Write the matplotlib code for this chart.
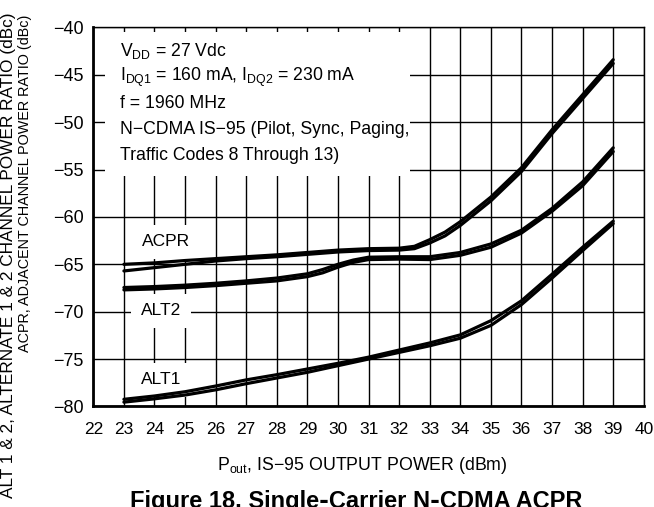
import matplotlib
matplotlib.use("Agg")
import matplotlib.pyplot as plt
from matplotlib.patches import Rectangle

FONTS = ['Liberation Sans', 'DejaVu Sans']
plt.rcParams['font.family'] = FONTS
plt.rcParams['mathtext.fontset'] = 'custom'
plt.rcParams['mathtext.rm'] = 'Liberation Sans'
plt.rcParams['mathtext.default'] = 'regular'

# ---- data ----
x_acpr = [23, 24, 25, 26, 27, 28, 29, 30, 31, 32, 32.5, 33, 33.5, 34, 35, 36, 37, 38, 39]
acpr_upper = [-65.0, -64.85, -64.6, -64.4, -64.2, -64.0, -63.75, -63.5, -63.35, -63.3, -63.1,
              -62.4, -61.6, -60.5, -57.9, -54.8, -50.8, -47.1, -43.4]
acpr_lower = [-65.7, -65.35, -65.0, -64.65, -64.4, -64.2, -63.95, -63.7, -63.55, -63.5, -63.35,
              -62.75, -62.0, -60.9, -58.3, -55.2, -51.2, -47.5, -43.8]

x_alt2 = [23, 24, 25, 26, 27, 28, 29, 29.5, 30, 30.5, 31, 32, 33, 34, 35, 36, 37, 38, 39]
alt2_a = [-67.7, -67.6, -67.45, -67.25, -67.0, -66.75, -66.3, -65.9, -65.3, -64.8, -64.5,
          -64.45, -64.5, -64.05, -63.2, -61.7, -59.4, -56.7, -53.1]
alt2_b = [-67.45, -67.35, -67.2, -67.0, -66.75, -66.45, -66.0, -65.55, -65.0, -64.55, -64.25,
          -64.2, -64.2, -63.75, -62.85, -61.4, -59.1, -56.3, -52.7]

x_alt1 = [23, 24, 25, 26, 27, 28, 29, 30, 31, 32, 33, 34, 35, 36, 37, 38, 39]
alt1_a = [-79.55, -79.2, -78.8, -78.25, -77.6, -77.0, -76.4, -75.7, -75.0, -74.3, -73.6,
          -72.8, -71.45, -69.25, -66.45, -63.55, -60.7]
alt1_b = [-79.25, -78.9, -78.45, -77.85, -77.2, -76.65, -76.05, -75.45, -74.8, -74.05, -73.3,
          -72.45, -70.95, -68.85, -66.05, -63.2, -60.45]

x_ticks = list(range(22, 41))
y_ticks = [-80, -75, -70, -65, -60, -55, -50, -45, -40]

fig = plt.figure(figsize=(6.54, 5.07), dpi=100)
ax = fig.add_axes([0.1427, 0.1984, 0.8417, 0.7474])
ax.set_xlim(22, 40)
ax.set_ylim(-80, -40)
ax.set_xticks(x_ticks)
ax.set_yticks(y_ticks)
ax.set_xticklabels([str(v) for v in x_ticks])
ax.set_yticklabels([('\u2212%d' % -v) for v in y_ticks])
ax.grid(True, color='black', lw=1.0)
ax.set_axisbelow(True)
ax.tick_params(length=0, labelsize=12.5, pad=11)
ax.tick_params(axis='y', labelsize=13, pad=7)
for s in ['left', 'bottom']:
    ax.spines[s].set_linewidth(2.0)
for s in ['top', 'right']:
    ax.spines[s].set_linewidth(1.0)

for xs, ys in [(x_acpr, acpr_upper), (x_acpr, acpr_lower), (x_alt2, alt2_a), (x_alt2, alt2_b),
               (x_alt1, alt1_a), (x_alt1, alt1_b)]:
    ax.plot(xs, ys, color='black', lw=2.3, solid_capstyle='round', solid_joinstyle='round', zorder=3)

# white box with conditions
ax.add_patch(Rectangle((0.0213, 0.608), 0.554, 0.381, transform=ax.transAxes,
                       facecolor='white', edgecolor='none', zorder=2))
lines = ['V$_{DD}$ = 27 Vdc',
         'I$_{DQ1}$ = 160 mA, I$_{DQ2}$ = 230 mA',
         'f = 1960 MHz',
         'N\u2212CDMA IS\u221295 (Pilot, Sync, Paging,',
         'Traffic Codes 8 Through 13)']
for i, t in enumerate(lines):
    fig.text(120 / 654, 1 - (51 + 26 * i) / 507, t, fontsize=12.7, ha='left', va='center', zorder=4)

box = dict(boxstyle='square,pad=0.55', facecolor='white', edgecolor='none')
ax.text(23.6, -62.6, 'ACPR', fontsize=12.5, ha='left', va='center', bbox=box, zorder=2.5)
ax.text(23.55, -69.9, 'ALT2', fontsize=12.5, ha='left', va='center', bbox=box, zorder=2.5)
ax.text(23.55, -77.2, 'ALT1', fontsize=12.5, ha='left', va='center', bbox=box, zorder=2.5)

fig.text(25 / 654, 1 - 15 / 507, 'ACPR, ADJACENT CHANNEL POWER RATIO (dBc)',
         rotation=90, ha='center', va='top', fontsize=10.4)
fig.text(9 / 654, 1 - 13 / 507, 'ALT 1 & 2, ALTERNATE 1 & 2 CHANNEL POWER RATIO (dBc)',
         rotation=90, ha='center', va='top', fontsize=12.4)

fig.text(362 / 654, 1 - 466 / 507, 'P$_{out}$, IS\u221295 OUTPUT POWER (dBm)',
         ha='center', va='center', fontsize=12.8)
fig.text(356 / 654, 1 - 490 / 507, 'Figure 18. Single\u2011Carrier N\u2011CDMA ACPR',
         ha='center', va='top', fontsize=17, fontweight='bold',
         family=['Liberation Sans', 'DejaVu Sans'])

fig.savefig('out.png', dpi=100)
